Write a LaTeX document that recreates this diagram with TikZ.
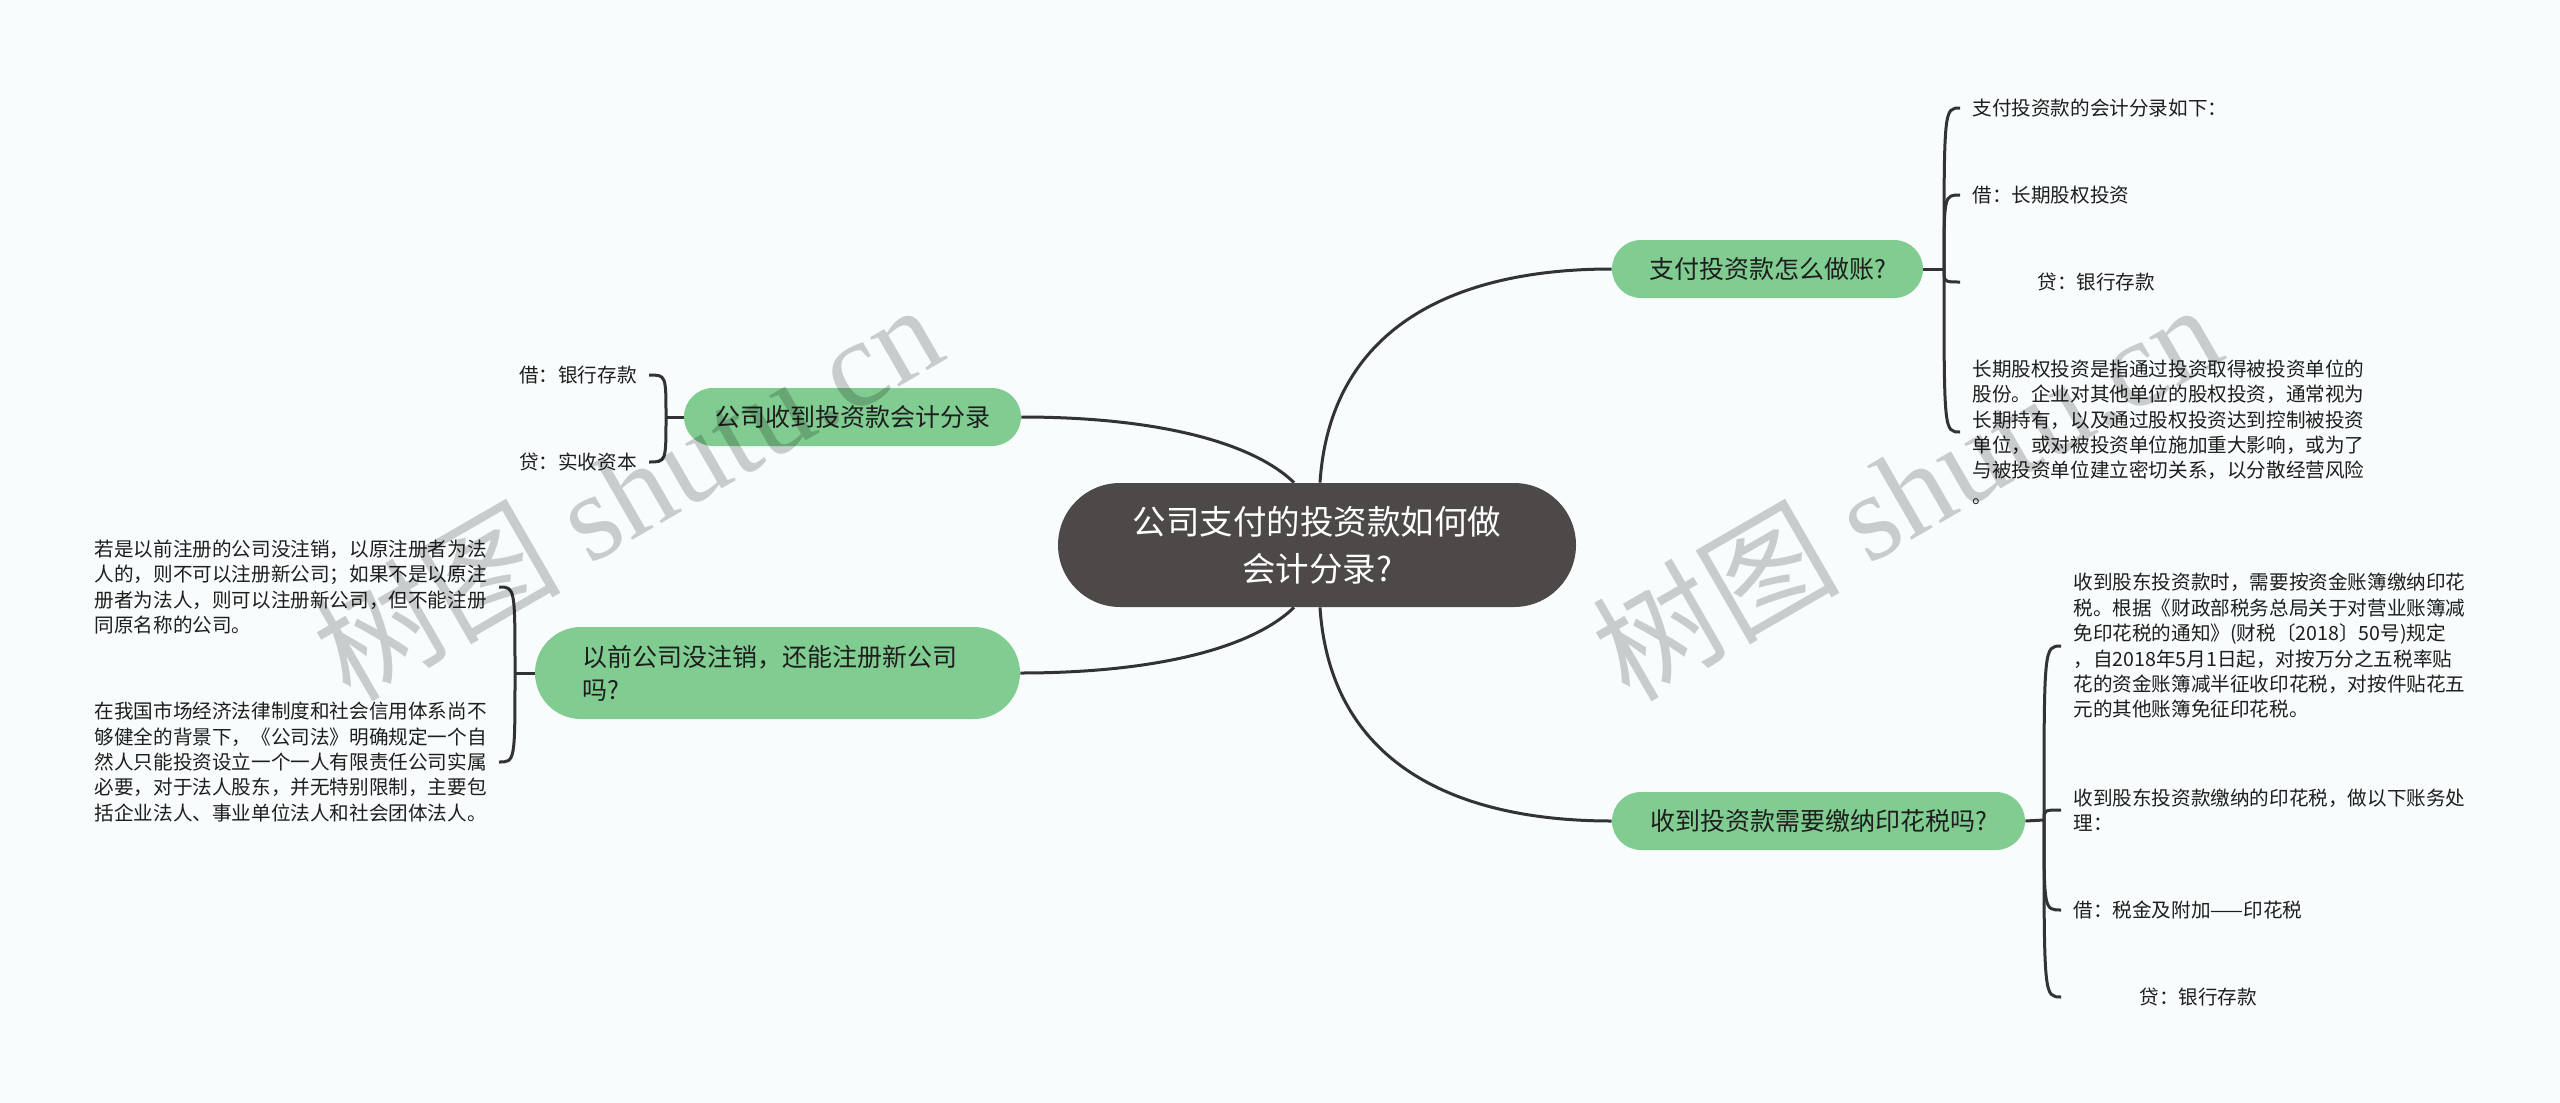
\documentclass[tikz,border=0pt]{standalone}
\usepackage{fontspec}
\setmainfont{Noto Sans CJK SC}
\newfontfamily\wmlatin{Liberation Serif}
\usetikzlibrary{calc}
\definecolor{bgc}{RGB}{248,252,252}
\definecolor{gr}{RGB}{128,204,145}
\definecolor{dk}{RGB}{77,73,72}
\definecolor{ln}{RGB}{51,51,51}
\definecolor{tx}{RGB}{30,30,30}
\pgfdeclarelayer{bg}
\pgfdeclarelayer{fg}
\pgfsetlayers{bg,main,fg}
\begin{document}
\begin{tikzpicture}[x=0.5pt,y=-0.5pt,
  topic/.style={fill=gr, draw=none, text=tx, font=\fontsize{12.5pt}{16.5pt}\selectfont, inner sep=0pt, minimum height=29pt, rounded corners=14.5pt},
  leaf/.style={font=\fontsize{9.8pt}{12.7pt}\selectfont, text=tx, inner xsep=6pt, inner ysep=0pt, align=left},
  conn/.style={draw=ln, line width=1.5pt},
  wm/.style={text=black, text opacity=0.19, font=\fontsize{62pt}{62pt}\selectfont, rotate=30, anchor=base west, inner sep=0pt}]
\useasboundingbox (0,0) rectangle (2560,1103);

% central and main topics
\node[fill=dk, text=white, rounded corners=31pt, minimum width=259pt, minimum height=62pt, inner sep=0pt, align=center, font=\fontsize{16.75pt}{23.5pt}\selectfont] (c) at (1317,545) {公司支付的投资款如何做\\会计分录?};
\node[topic, minimum width=155.5pt] (n1) at (1767.5,269) {支付投资款怎么做账?};
\node[topic, minimum width=168.5pt] (n2) at (852.5,417) {公司收到投资款会计分录};
\node[topic, minimum width=242.5pt, minimum height=46pt, rounded corners=23pt, text width=195pt, align=left] (n3) at (777.5,673) {以前公司没注销，还能注册新公司\\吗?};
\node[topic, minimum width=206.5pt] (n4) at (1818.5,821) {收到投资款需要缴纳印花税吗?};

% leaves right top
\node[leaf, anchor=west] (a1) at (1960,108) {支付投资款的会计分录如下：};
\node[leaf, anchor=west] (a2) at (1960,195) {借：长期股权投资};
\node[leaf, anchor=west] (a3) at (1960,282) {\hspace*{32.5pt}贷：银行存款};
\node[leaf, anchor=west] (a4) at (1960,432) {长期股权投资是指通过投资取得被投资单位的\\股份。企业对其他单位的股权投资，通常视为\\长期持有，以及通过股权投资达到控制被投资\\单位，或对被投资单位施加重大影响，或为了\\与被投资单位建立密切关系，以分散经营风险\\。};

% leaves right bottom
\node[leaf, anchor=west] (b1) at (2061,646) {收到股东投资款时，需要按资金账簿缴纳印花\\税。根据《财政部税务总局关于对营业账簿减\\免印花税的通知》(财税〔2018〕50号)规定\\，自2018年5月1日起，对按万分之五税率贴\\花的资金账簿减半征收印花税，对按件贴花五\\元的其他账簿免征印花税。};
\node[leaf, anchor=west] (b2) at (2061,810) {收到股东投资款缴纳的印花税，做以下账务处\\理：};
\node[leaf, anchor=west] (b3) at (2061,910) {借：税金及附加——印花税};
\node[leaf, anchor=west] (b4) at (2061,997) {\hspace*{33pt}贷：银行存款};

% leaves left
\node[leaf, anchor=east] (l1) at (649,375) {借：银行存款};
\node[leaf, anchor=east] (l2) at (649,462) {贷：实收资本};
\node[leaf, anchor=east] (d1) at (499,587) {若是以前注册的公司没注销，以原注册者为法\\人的，则不可以注册新公司；如果不是以原注\\册者为法人，则可以注册新公司，但不能注册\\同原名称的公司。};
\node[leaf, anchor=east] (d2) at (499,762) {在我国市场经济法律制度和社会信用体系尚不\\够健全的背景下，《公司法》明确规定一个自\\然人只能投资设立一个一人有限责任公司实属\\必要，对于法人股东，并无特别限制，主要包\\括企业法人、事业单位法人和社会团体法人。};

\coordinate (j1) at (1944,269);
\coordinate (j2) at (666,417);
\coordinate (j3) at (515,673);
\coordinate (j4) at (2044,820);

\begin{pgfonlayer}{bg}
\fill[bgc] (0,0) rectangle (2560,1103);
\draw[conn] ($(c.north)+(3,0)$) .. controls (1330,330) and (1450,269) .. (n1.west);
\draw[conn] ($(c.south)+(3,0)$) .. controls (1330,760) and (1450,821) .. (n4.west);
\draw[conn] ($(c.north)+(-23,0)$) .. controls (1250,440) and (1150,417) .. (n2.east);
\draw[conn] ($(c.south)+(-23,0)$) .. controls (1250,650) and (1150,673) .. (n3.east);
\draw[conn] (n1.east) -- (j1);
\foreach \t in {a1,a2,a3,a4} \draw[conn] (j1) .. controls (j1 |- \t.west) and (j1 |- \t.west) .. (\t.west);
\draw[conn] (n4.east) -- (j4);
\foreach \t in {b1,b2,b3,b4} \draw[conn] (j4) .. controls (j4 |- \t.west) and (j4 |- \t.west) .. (\t.west);
\draw[conn] (n2.west) -- (j2);
\foreach \t in {l1,l2} \draw[conn] (j2) .. controls (j2 |- \t.east) and (j2 |- \t.east) .. (\t.east);
\draw[conn] (n3.west) -- (j3);
\foreach \t in {d1,d2} \draw[conn] (j3) .. controls (j3 |- \t.east) and (j3 |- \t.east) .. (\t.east);
\end{pgfonlayer}

\begin{pgfonlayer}{fg}
\node[wm] (w1) at (350,704) {树图 {\wmlatin shutu.cn}};
\node[wm] (w2) at (1629,704) {树图 {\wmlatin shutu.cn}};
\end{pgfonlayer}
\end{tikzpicture}
\end{document}
